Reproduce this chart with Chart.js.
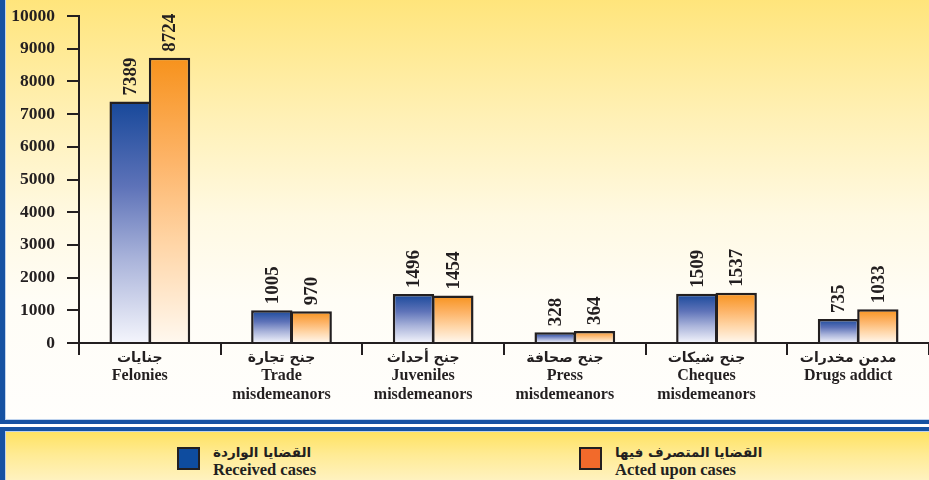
<!DOCTYPE html>
<html>
<head>
<meta charset="utf-8">
<script src="https://cdn.jsdelivr.net/npm/chart.js@4/dist/chart.umd.min.js"></script>
<style>
  html, body { margin:0; padding:0; width:929px; height:480px; overflow:hidden; background:#ffffff; }
  #top-panel {
    position:absolute; left:0; top:-6px; width:924px; height:426px;
    border-left:5px solid #1652A2; border-bottom:4px solid #1652A2;
    background: linear-gradient(to bottom, #FFE478 0%, #FFF0B4 28%, #FFF9E2 52%, #FFFDF6 72%, #FFFEFC 100%);
    box-shadow: inset 1px -1px 0 #BFD3EE;
  }
  #bottom-panel {
    position:absolute; left:0; top:427px; width:924px; height:60px;
    border-left:5px solid #1652A2; border-top:4px solid #1652A2;
    background: linear-gradient(to bottom, #FFE260 0%, #FFEB95 40%, #FFF5D2 100%);
    box-shadow: inset 1px 1px 0 #BFD3EE;
  }
  #chart { position:absolute; left:0; top:0; }
  .leg-item { position:absolute; top:446px; height:30px; }
  .leg-box { position:absolute; left:0; top:1px; width:19px; height:19px; border:2.5px solid #231F20; }
  .leg-ar { position:absolute; left:36px; top:-2px; white-space:nowrap; font:bold 13.5px "DejaVu Sans", sans-serif; color:#231F20; direction:rtl; }
  .leg-en { position:absolute; left:36px; top:14px; white-space:nowrap; font:bold 16.5px "Liberation Serif", "Times New Roman", serif; color:#231F20; }
</style>
</head>
<body>
<div id="top-panel"></div>
<div id="bottom-panel"></div>
<canvas id="chart" width="929" height="420"></canvas>
<div id="legend"></div>
<script>
// ---- data ----
const categoriesAr = ['جنايات', 'جنح تجارة', 'جنح أحداث', 'جنح صحافة', 'جنح شيكات', 'مدمن مخدرات'];
const categoriesEn = [['Felonies'], ['Trade', 'misdemeanors'], ['Juveniles', 'misdemeanors'], ['Press', 'misdemeanors'], ['Cheques', 'misdemeanors'], ['Drugs addict']];
const receivedCases = [7389, 1005, 1496, 328, 1509, 735];
const actedCases = [8724, 970, 1454, 364, 1537, 1033];
const seriesNamesAr = ['القضايا الواردة', 'القضايا المتصرف فيها'];
const seriesNamesEn = ['Received cases', 'Acted upon cases'];
const yTickValues = [0, 1000, 2000, 3000, 4000, 5000, 6000, 7000, 8000, 9000, 10000];

// ---- styles ----
const INK = '#231F20';
const gradStops = [
  ['#17489A', '#5D72B8', '#A9B3DA', '#F4F5FC'],
  ['#F7921C', '#FDB366', '#FFD5A6', '#FFF8EF']
];
const legendColors = ['#0E4C9F', '#F26A2B'];
const X_LABEL_OFFSET = -10;

function barGradient(dsIndex) {
  return function (ctx) {
    if (ctx.type !== 'data') return gradStops[dsIndex][0];
    const chart = ctx.chart;
    const ys = chart.scales.y;
    if (!chart.chartArea || !ys) return gradStops[dsIndex][0];
    const top = ys.getPixelForValue(ctx.raw);
    const bottom = ys.getPixelForValue(0);
    const g = chart.ctx.createLinearGradient(0, top, 0, bottom);
    const s = gradStops[dsIndex];
    g.addColorStop(0, s[0]);
    g.addColorStop(0.35, s[1]);
    g.addColorStop(0.65, s[2]);
    g.addColorStop(1, s[3]);
    return g;
  };
}

const valueLabels = {
  id: 'valueLabels',
  afterDatasetsDraw(chart) {
    const ctx = chart.ctx;
    ctx.save();
    ctx.font = 'bold 19px "Liberation Serif", "Times New Roman", serif';
    ctx.fillStyle = INK;
    ctx.textAlign = 'left';
    ctx.textBaseline = 'middle';
    chart.data.datasets.forEach((ds, i) => {
      chart.getDatasetMeta(i).data.forEach((bar, j) => {
        ctx.save();
        ctx.translate(bar.x, bar.y - 6);
        ctx.rotate(-Math.PI / 2);
        ctx.fillText(String(ds.data[j]), 0, 1);
        ctx.restore();
      });
    });
    ctx.restore();
  }
};

const arabicCategoryLabels = {
  id: 'arabicCategoryLabels',
  afterDraw(chart) {
    const xs = chart.scales.x;
    const ctx = chart.ctx;
    ctx.save();
    ctx.font = 'bold 14px "DejaVu Sans", sans-serif';
    ctx.fillStyle = INK;
    ctx.textAlign = 'center';
    ctx.textBaseline = 'middle';
    categoriesAr.forEach((t, i) => {
      ctx.fillText(t, xs.getPixelForTick(i) + X_LABEL_OFFSET, xs.top + 15);
    });
    ctx.restore();
  }
};

const chart = new Chart(document.getElementById('chart'), {
  type: 'bar',
  data: {
    labels: categoriesEn,
    datasets: [
      { label: seriesNamesEn[0], data: receivedCases, backgroundColor: barGradient(0), borderColor: INK, borderWidth: 2.5, categoryPercentage: 0.556, barPercentage: 1.05 },
      { label: seriesNamesEn[1], data: actedCases, backgroundColor: barGradient(1), borderColor: INK, borderWidth: 2.5, categoryPercentage: 0.556, barPercentage: 1.05 }
    ]
  },
  options: {
    responsive: false,
    animation: false,
    layout: { padding: { top: 16, left: 0, right: 0, bottom: 0 } },
    plugins: { legend: { display: false }, tooltip: { enabled: false } },
    scales: {
      x: {
        offset: true,
        border: { display: true, color: INK, width: 2 },
        grid: { display: true, drawOnChartArea: false, drawTicks: true, tickLength: 12, color: INK, lineWidth: 2, offset: true },
        ticks: {
          color: INK,
          font: { family: '"Liberation Serif", "Times New Roman", serif', size: 16, weight: 'bold', lineHeight: 1.2 },
          padding: 11,
          maxRotation: 0,
          autoSkip: false,
          labelOffset: X_LABEL_OFFSET
        },
        afterFit(scale) { scale.height = 77; scale.paddingLeft = 0; scale.paddingRight = 0; }
      },
      y: {
        min: 0,
        max: 10000,
        border: { display: true, color: INK, width: 2 },
        grid: { display: true, drawOnChartArea: false, drawTicks: true, tickLength: 12, color: INK, lineWidth: 2 },
        afterBuildTicks(scale) { scale.ticks = yTickValues.map(v => ({ value: v })); },
        ticks: {
          color: INK,
          font: { family: '"Liberation Serif", "Times New Roman", serif', size: 17.5, weight: 'bold' },
          padding: 12,
          callback: (v) => String(v)
        },
        afterFit(scale) { scale.width = 79; scale.paddingTop = 0; scale.paddingBottom = 0; }
      }
    }
  },
  plugins: [valueLabels, arabicCategoryLabels]
});

// HTML legend built from the datasets
const legendEl = document.getElementById('legend');
const legendLeft = [177, 579];
chart.data.datasets.forEach((ds, i) => {
  const item = document.createElement('div');
  item.className = 'leg-item';
  item.style.left = legendLeft[i] + 'px';
  item.innerHTML = '<div class="leg-box" style="background:' + legendColors[i] + '"></div>' +
    '<div class="leg-ar">' + seriesNamesAr[i] + '</div>' +
    '<div class="leg-en">' + ds.label + '</div>';
  legendEl.appendChild(item);
});
</script>
</body>
</html>
